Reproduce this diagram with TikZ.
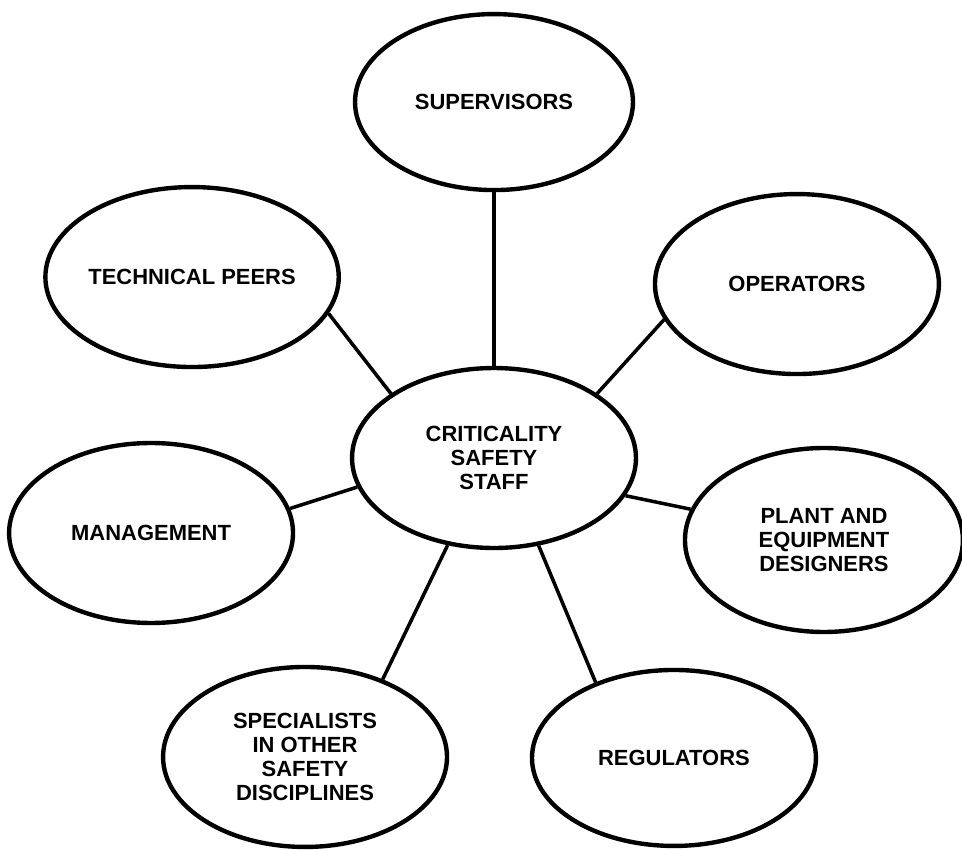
\documentclass[tikz,border=0pt]{standalone}
\usepackage{fontspec}
\setsansfont{Liberation Sans}
\usepackage{tikz}
\usetikzlibrary{shapes.geometric}
\usetikzlibrary{positioning}

\tikzset{
  group/.style={ellipse, draw, line width=2.5pt, inner sep=0pt,
    minimum width=5.68cm, minimum height=3.6cm, align=center,
    font=\sffamily\bfseries\fontsize{12.5}{13.7}\selectfont},
  link/.style={line width=2pt}
}

\begin{document}
\begin{tikzpicture}[x=0.02cm, y=-0.02cm, on grid]
  \useasboundingbox (0,0) rectangle (962,849);
  % Define nodes
  \node[group] (staff) at (494,458) {CRITICALITY\\SAFETY\\STAFF};
  \node[group, minimum width=5.56cm, minimum height=3.52cm, above=7.12cm of staff] (supervisors) {SUPERVISORS};
  \node[group, above left=3.62cm and 6.04cm of staff] (peers) {TECHNICAL PEERS};
  \node[group, above right=3.48cm and 6.06cm of staff] (operators) {OPERATORS};
  %--
  \node[group, below left=1.5cm and 6.86cm of staff] (management) {MANAGEMENT};
  \node[group, minimum width=5.56cm, minimum height=3.68cm, below right=1.64cm and 6.6cm of staff] (designers) {PLANT AND\\EQUIPMENT\\DESIGNERS};
  \node[group, below left=5.98cm and 3.78cm of staff] (specialists) {SPECIALISTS\\IN OTHER\\SAFETY\\DISCIPLINES};
  \node[group, minimum height=3.52cm, below right=6cm and 3.6cm of staff] (regulators) {REGULATORS};

  % Connect the nodes
  \draw[link] (supervisors.south) -- (staff.north);
  \draw[link] (peers.-15) -- (staff.148);
  \draw[link] (operators.195) -- (staff.32);
  \draw[link] (management.10) -- (staff.192);
  \draw[link] (designers.167) -- (staff.-16);
  \draw[link] (specialists.45) -- (staff.-118);
  \draw[link] (regulators.136) -- (staff.-63);
\end{tikzpicture}
\end{document}
